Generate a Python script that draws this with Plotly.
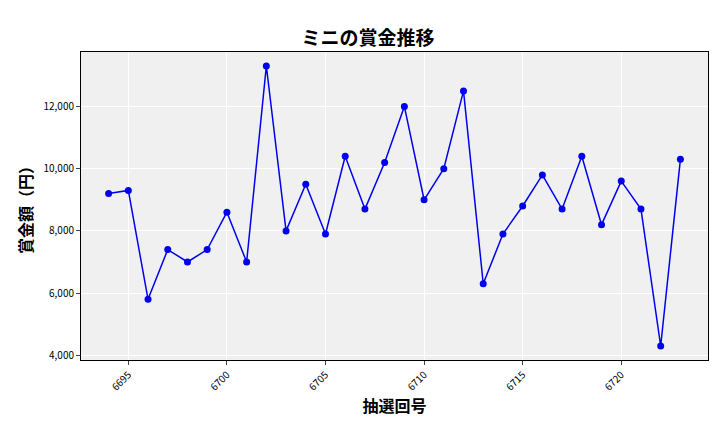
import plotly.graph_objects as go

draws = list(range(6694, 6724))
prizes = [9200, 9300, 5800, 7400, 7000, 7400, 8600, 7000, 13300, 8000,
          9500, 7900, 10400, 8700, 10200, 12000, 9000, 10000, 12500, 6300,
          7900, 8800, 9800, 8700, 10400, 8200, 9600, 8700, 4300, 10300]
xticks = [6695, 6700, 6705, 6710, 6715, 6720]
yticks = [4000, 6000, 8000, 10000, 12000]

font = "Noto Sans CJK JP"
fig = go.Figure(go.Scatter(x=draws, y=prizes, mode="lines+markers",
                           line=dict(color="#0000ee", width=1.5),
                           marker=dict(color="#0000ee", size=7)))
fig.update_layout(
    width=720, height=432, margin=dict(l=73, r=20, t=44, b=80),
    paper_bgcolor="white", plot_bgcolor="#f0f0f0",
    font=dict(family=font, color="black"),
    title=dict(text="<b>ミニの賞金推移</b>", x=0.5, xanchor="center", y=0.945, font=dict(size=19)),
    showlegend=False,
)
fig.update_xaxes(tickvals=xticks, tickangle=-45, tickfont=dict(size=10), range=[6692.6, 6724.4],
                 showgrid=True, gridcolor="white", showline=True, linecolor="black", mirror=True,
                 ticks="outside", ticklen=4,
                 title=dict(text="<b>抽選回号</b>", font=dict(size=16), standoff=8))
fig.update_yaxes(tickvals=yticks, tickformat=",", tickfont=dict(size=10), range=[3850, 13750],
                 showgrid=True, gridcolor="white", showline=True, linecolor="black", mirror=True,
                 ticks="outside", ticklen=4,
                 title=dict(text="<b>賞金額（円）</b>", font=dict(size=16), standoff=6))
fig.write_html("out.html")
